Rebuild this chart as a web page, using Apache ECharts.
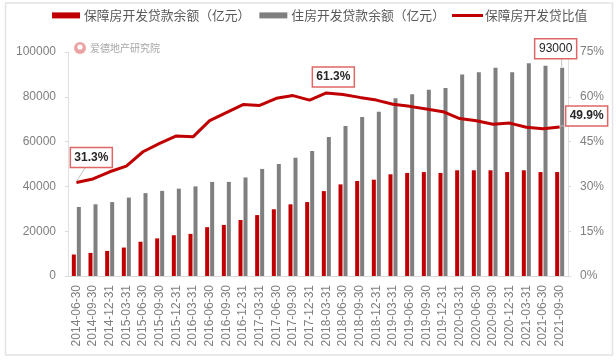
<!DOCTYPE html>
<html><head><meta charset="utf-8">
<style>html,body{margin:0;padding:0;background:#fff}#c{width:616px;height:361px}</style>
<script src="https://cdn.jsdelivr.net/npm/echarts@6/dist/echarts.min.js"></script>
</head><body><div id="c"></div>
<script>
const categories = ['2014-06-30','2014-09-30','2014-12-31','2015-03-31','2015-06-30','2015-09-30','2015-12-31','2016-03-31','2016-06-30','2016-09-30','2016-12-31','2017-03-31','2017-06-30','2017-09-30','2017-12-31','2018-03-31','2018-06-30','2018-09-30','2018-12-31','2019-03-31','2019-06-30','2019-09-30','2019-12-31','2020-03-31','2020-06-30','2020-09-30','2020-12-31','2021-03-31','2021-06-30','2021-09-30'];
const affordableLoans = [9600,10300,11200,12700,15300,16800,18200,18800,21800,22800,25000,27200,29800,32000,33000,37900,40900,42400,43000,45400,46000,46400,46000,47200,47200,47200,46400,47200,46400,46400];
const housingLoans = [30800,32000,33000,35000,37000,38000,39000,40000,42000,42000,44000,47800,50000,52800,55800,62000,67000,71000,73300,79300,81100,83200,83900,89900,91000,93000,91000,95000,93900,93000];
const ratio = [31.3,32.5,34.9,36.8,41.6,44.4,46.9,46.6,52,54.7,57.4,57.1,59.5,60.4,58.9,61.3,60.8,59.8,58.9,57.5,56.8,55.9,55,52.7,52,50.8,51.2,49.8,49.3,49.9];
const names = ['保障房开发贷款余额（亿元）','住房开发贷款余额（亿元）','保障房开发贷比值'];
const LATIN = '"Liberation Sans", Arial, sans-serif';
// index of each annotated point
const ratioCallouts = [0, 15, 29];
const loanCallouts = [29];
// box-centre offsets from the annotated point
const calloutOffsets = {r0:[15,-25], r15:[7,-16], r29:[27,-11], l29:[-6,-19]};

function callout(api, key, text, anchorShift, showLead, weight) {
  const idx = api.value(0), val = api.value(1);
  const p = api.coord([idx, val]);
  const ax = p[0] + anchorShift, ay = p[1];
  const off = calloutOffsets[key];
  const cx = ax + off[0], cy = ay + off[1];
  const w = 42, h = 20;
  const children = [];
  if (showLead) {
    children.push({type:'line', shape:{x1:cx + Math.sign(ax-cx)*Math.min(Math.abs(ax-cx),6), y1:cy + (ay<cy?-h/2:h/2), x2:ax, y2:ay-1},
      style:{stroke:'#bfbfbf', lineWidth:1}});
  }
  children.push({type:'rect', shape:{x:cx-w/2,y:cy-h/2,width:w,height:h},
    style:{fill:'#fff', stroke:'#e06666', lineWidth:1.5}});
  children.push({type:'text', x:cx, y:cy, style:{text, fill:'#262626',
    font:weight+' 12px '+LATIN, align:'center', verticalAlign:'middle'}});
  return {type:'group', children};
}

const chart = echarts.init(document.getElementById('c'), null, {renderer:'canvas'});
chart.setOption({
  animation:false,
  backgroundColor:'#fff',
  graphic:[
    {type:'rect', shape:{x:5.5,y:3,width:607,height:352}, style:{fill:'none', stroke:'#e4e4e4', lineWidth:1.5}, z:-1},
    {type:'circle', shape:{cx:80,cy:48,r:6}, style:{fill:'#eda3a3'}},
    {type:'circle', shape:{cx:80,cy:47,r:2.6}, style:{fill:'#fff'}},
    {type:'text', style:{x:90,y:48.5,text:'爱德地产研究院',fill:'#a6a6a6',font:'10px "Noto Sans CJK SC"',verticalAlign:'middle'}}
  ],
  legend:[
    {left:47, top:4, itemWidth:28, itemHeight:6, itemGap:9,
     textStyle:{color:'#595959', fontSize:12.8, fontFamily:'"Noto Sans CJK SC"', padding:[0,0,0,-1]},
     data:[{name:names[0],icon:'rect'},{name:names[1],icon:'rect'}]},
    {left:447, top:4, itemWidth:31, itemHeight:6,
     textStyle:{color:'#595959', fontSize:12.8, fontFamily:'"Noto Sans CJK SC"', padding:[0,0,0,-3]},
     data:[{name:names[2], icon:'path://M0 1.5H31V4.5H0Z M0 0H0V6H0Z', itemStyle:{color:'#c00000'}}]}
  ],
  grid:{left:68, right:48, top:52, bottom:85},
  xAxis:{type:'category', data:categories,
    axisLine:{lineStyle:{color:'#d9d9d9'}}, axisTick:{show:false},
    axisLabel:{rotate:90, interval:0, margin:9, color:'#7f7f7f', fontSize:12, fontFamily:LATIN}},
  yAxis:[
    {type:'value', min:0, max:100000, interval:20000, splitLine:{show:false},
     axisLine:{show:true,lineStyle:{color:'#e0e0e0'}}, axisTick:{show:true,length:3,lineStyle:{color:'#d9d9d9'}},
     axisLabel:{margin:12,color:'#7f7f7f',fontSize:12,fontFamily:LATIN,formatter:v=>String(v)}},
    {type:'value', min:0, max:75, interval:15, splitLine:{show:false},
     axisLine:{show:true,lineStyle:{color:'#e0e0e0'}}, axisTick:{show:true,length:3,lineStyle:{color:'#d9d9d9'}},
     axisLabel:{margin:12,color:'#7f7f7f',fontSize:12,fontFamily:LATIN,formatter:'{value}%'}}
  ],
  series:[
    {name:names[0], type:'bar', data:affordableLoans, barWidth:4, barGap:'25%', itemStyle:{color:'#c00000'}},
    {name:names[1], type:'bar', data:housingLoans, barWidth:4, itemStyle:{color:'#7f7f7f'}},
    {name:names[2], type:'line', yAxisIndex:1, data:ratio, symbol:'none',
     lineStyle:{color:'#c00000',width:3}, itemStyle:{color:'#c00000'}, z:5},
    {type:'custom', yAxisIndex:1, z:10, silent:true, clip:false,
     data:ratioCallouts.map(i=>[i, ratio[i]]),
     renderItem:(params,api)=>{const i=api.value(0);
       return callout(api,'r'+i,api.value(1).toFixed(1)+'%',0,i!==15,'bold');}},
    {type:'custom', yAxisIndex:0, z:10, silent:true, clip:false,
     data:loanCallouts.map(i=>[i, housingLoans[i]]),
     renderItem:(params,api)=>callout(api,'l'+api.value(0),String(api.value(1)),2,true,'normal')}
  ]
});
</script></body></html>
